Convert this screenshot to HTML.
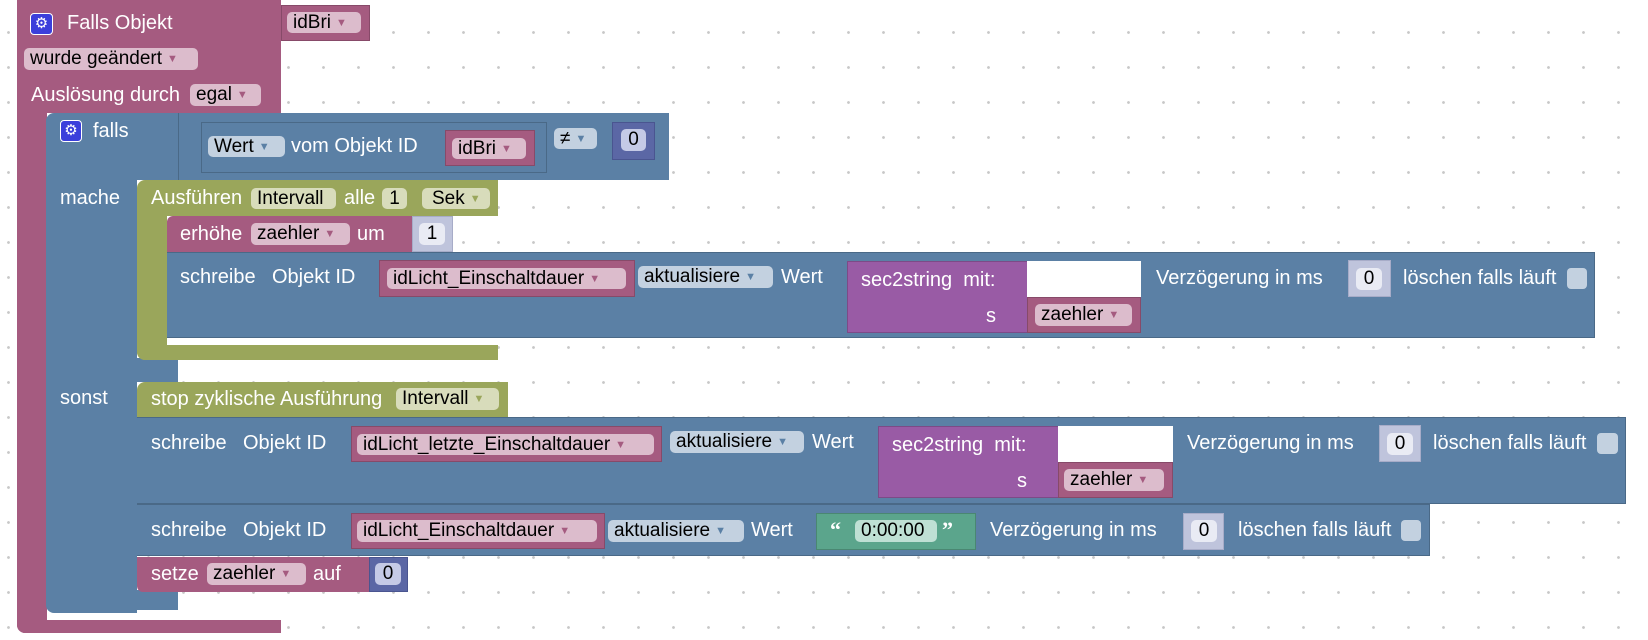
<!DOCTYPE html>
<html><head><meta charset="utf-8"><style>
body{margin:0;width:1648px;height:640px;overflow:hidden;background:#fff;
background-image:radial-gradient(circle,#c8c8c8 1.2px,transparent 1.6px);background-size:35px 35px;background-position:-9px 15px;
font-family:"Liberation Sans",sans-serif;}
div{position:absolute;box-sizing:border-box}
.t{color:#fff;font-size:20px;line-height:23px;white-space:nowrap}
.f{color:#000;font-size:19px;border-radius:5px;padding-left:6px;white-space:nowrap}
.f i{font-style:normal;font-size:11px;margin-left:5px;vertical-align:2px}
.pk{background:#a55b80}.bl{background:#5b80a5}.ol{background:#9aa65b}.pu{background:#995ba5}.gr{background:#5ba58c}
.fp{background:#dcbccc}.fp i{color:#a55b80}
.fb{background:#c3d1e0}.fb i{color:#5b80a5}
.fo{background:#d8dcbb}.fo i{color:#9aa65b}
.ln{background:#bfc4dc;border:1px solid #a7acc8}
.fl{background:#e9ebf4;text-align:center;padding:0}
.ob{border:1px solid rgba(0,0,0,.18)}
.gear{background:#3b3fdb;border:1.5px solid #fff;border-radius:4px;color:#fff;font-size:15px;text-align:center;line-height:19px}
.cb{background:#c3d1e0;border-radius:4px}
</style></head><body>

<!-- pink trigger -->
<div class="pk" style="left:17px;top:0;width:264px;height:113px"></div>
<div class="pk" style="left:17px;top:100px;width:30px;height:533px;border-radius:0 0 0 8px"></div>
<div class="pk" style="left:17px;top:620px;width:264px;height:13px;border-radius:0 0 0 8px"></div>
<div class="gear" style="left:30px;top:13px;width:23px;height:22px">⚙</div>
<div class="t" style="left:67px;top:12px">Falls Objekt</div>
<div class="pk ob" style="left:281px;top:5px;width:89px;height:36px"></div>
<div class="f fp" style="left:287px;top:12px;width:74px;height:21px;line-height:21px">idBri<i>▼</i></div>
<div class="f fp" style="left:24px;top:48px;width:174px;height:22px;line-height:22px">wurde geändert<i>▼</i></div>
<div class="t" style="left:31px;top:84px">Auslösung durch</div>
<div class="f fp" style="left:190px;top:84px;width:71px;height:22px;line-height:22px">egal<i>▼</i></div>

<!-- blue falls -->
<div class="bl" style="left:46px;top:113px;width:623px;height:67px;border-radius:8px 0 0 0"></div>
<div class="bl" style="left:46px;top:170px;width:91px;height:443px;border-radius:0 0 0 8px"></div>
<div class="bl" style="left:137px;top:358px;width:41px;height:24px"></div>
<div class="bl" style="left:137px;top:590px;width:41px;height:20px"></div>
<div class="gear" style="left:60px;top:120px;width:22px;height:22px">⚙</div>
<div class="t" style="left:93px;top:120px">falls</div>
<div class="bl ob" style="left:178px;top:113px;width:491px;height:67px;border-width:0 0 0 1px"></div>
<div class="bl ob" style="left:201px;top:122px;width:346px;height:51px"></div>
<div class="f fb" style="left:208px;top:136px;width:77px;height:21px;line-height:21px">Wert<i>▼</i></div>
<div class="t" style="left:291px;top:135px">vom Objekt ID</div>
<div class="pk ob" style="left:445px;top:130px;width:90px;height:36px"></div>
<div class="f fp" style="left:452px;top:138px;width:74px;height:21px;line-height:21px">idBri<i>▼</i></div>
<div class="f fb" style="left:554px;top:128px;width:43px;height:21px;line-height:21px">≠<i>▼</i></div>
<div style="left:612px;top:122px;width:43px;height:38px;background:#5b67a5;border:1px solid #4a5590"></div>
<div class="f" style="left:621px;top:129px;width:25px;height:22px;line-height:22px;background:#c5cae6;padding:0;text-align:center">0</div>
<div class="t" style="left:60px;top:187px">mache</div>
<div class="t" style="left:60px;top:387px">sonst</div>

<!-- olive Ausführen -->
<div class="ol" style="left:137px;top:180px;width:361px;height:36px;border-radius:8px 0 0 0"></div>
<div class="ol" style="left:137px;top:210px;width:30px;height:150px;border-radius:0 0 0 8px"></div>
<div class="ol" style="left:137px;top:345px;width:361px;height:15px;border-radius:0 0 0 8px"></div>
<div class="t" style="left:151px;top:187px">Ausführen</div>
<div class="f fo" style="left:251px;top:188px;width:85px;height:21px;line-height:21px">Intervall</div>
<div class="t" style="left:344px;top:187px">alle</div>
<div class="f fo" style="left:382px;top:188px;width:25px;height:21px;line-height:21px;padding:0;text-align:center">1</div>
<div class="f fo" style="left:422px;top:188px;width:68px;height:21px;line-height:21px;padding-left:10px">Sek<i>▼</i></div>

<!-- erhöhe -->
<div class="pk" style="left:167px;top:216px;width:245px;height:36px;border-radius:6px 0 0 0"></div>
<div class="t" style="left:180px;top:223px">erhöhe</div>
<div class="f fp" style="left:251px;top:223px;width:99px;height:22px;line-height:22px">zaehler<i>▼</i></div>
<div class="t" style="left:357px;top:223px">um</div>
<div class="ln" style="left:412px;top:216px;width:41px;height:36px"></div>
<div class="f fl" style="left:419px;top:223px;width:26px;height:22px;line-height:22px">1</div>

<!-- schreibe 1 -->
<div class="bl ob" style="left:167px;top:252px;width:1428px;height:86px;border-width:1px 1px 1px 0"></div>
<div class="t" style="left:180px;top:266px">schreibe</div>
<div class="t" style="left:272px;top:266px">Objekt ID</div>
<div class="pk ob" style="left:379px;top:260px;width:256px;height:37px"></div>
<div class="f fp" style="left:387px;top:268px;width:239px;height:21px;line-height:21px">idLicht_Einschaltdauer<i>▼</i></div>
<div class="f fb" style="left:638px;top:266px;width:135px;height:22px;line-height:22px">aktualisiere<i>▼</i></div>
<div class="t" style="left:781px;top:266px">Wert</div>
<div class="pu ob" style="left:847px;top:261px;width:294px;height:72px"></div>
<div style="left:1027px;top:261px;width:114px;height:36px;background:#fff"></div>
<div class="t" style="left:861px;top:269px">sec2string&nbsp; mit:</div>
<div class="t" style="left:986px;top:305px">s</div>
<div class="pk ob" style="left:1027px;top:297px;width:114px;height:36px"></div>
<div class="f fp" style="left:1035px;top:304px;width:97px;height:22px;line-height:22px">zaehler<i>▼</i></div>
<div class="t" style="left:1156px;top:267px">Verzögerung in ms</div>
<div class="ln" style="left:1348px;top:260px;width:43px;height:37px"></div>
<div class="f fl" style="left:1356px;top:268px;width:26px;height:22px;line-height:22px">0</div>
<div class="t" style="left:1403px;top:267px">löschen falls läuft</div>
<div class="cb" style="left:1567px;top:268px;width:20px;height:21px"></div>

<!-- stop -->
<div class="ol" style="left:137px;top:382px;width:371px;height:35px;border-radius:8px 0 0 0"></div>
<div class="t" style="left:151px;top:388px">stop zyklische Ausführung</div>
<div class="f fo" style="left:396px;top:388px;width:103px;height:22px;line-height:22px">Intervall<i>▼</i></div>

<!-- schreibe 2 -->
<div class="bl ob" style="left:137px;top:417px;width:1489px;height:87px;border-width:1px 1px 1px 0"></div>
<div class="t" style="left:151px;top:432px">schreibe</div>
<div class="t" style="left:243px;top:432px">Objekt ID</div>
<div class="pk ob" style="left:351px;top:426px;width:311px;height:36px"></div>
<div class="f fp" style="left:357px;top:434px;width:297px;height:21px;line-height:21px">idLicht_letzte_Einschaltdauer<i>▼</i></div>
<div class="f fb" style="left:670px;top:431px;width:134px;height:22px;line-height:22px">aktualisiere<i>▼</i></div>
<div class="t" style="left:812px;top:431px">Wert</div>
<div class="pu ob" style="left:878px;top:426px;width:295px;height:72px"></div>
<div style="left:1058px;top:426px;width:115px;height:36px;background:#fff"></div>
<div class="t" style="left:892px;top:434px">sec2string&nbsp; mit:</div>
<div class="t" style="left:1017px;top:470px">s</div>
<div class="pk ob" style="left:1058px;top:462px;width:115px;height:36px"></div>
<div class="f fp" style="left:1064px;top:469px;width:100px;height:22px;line-height:22px">zaehler<i>▼</i></div>
<div class="t" style="left:1187px;top:432px">Verzögerung in ms</div>
<div class="ln" style="left:1379px;top:425px;width:42px;height:37px"></div>
<div class="f fl" style="left:1387px;top:433px;width:26px;height:22px;line-height:22px">0</div>
<div class="t" style="left:1433px;top:432px">löschen falls läuft</div>
<div class="cb" style="left:1597px;top:433px;width:21px;height:21px"></div>

<!-- schreibe 3 -->
<div class="bl ob" style="left:137px;top:504px;width:1293px;height:52px;border-width:1px 1px 1px 0"></div>
<div class="t" style="left:151px;top:519px">schreibe</div>
<div class="t" style="left:243px;top:519px">Objekt ID</div>
<div class="pk ob" style="left:351px;top:513px;width:254px;height:36px"></div>
<div class="f fp" style="left:357px;top:520px;width:240px;height:22px;line-height:22px">idLicht_Einschaltdauer<i>▼</i></div>
<div class="f fb" style="left:608px;top:520px;width:136px;height:22px;line-height:22px">aktualisiere<i>▼</i></div>
<div class="t" style="left:751px;top:519px">Wert</div>
<div class="gr ob" style="left:816px;top:513px;width:160px;height:37px"></div>
<div class="t" style="left:830px;top:518px;font-weight:bold;font-family:'Liberation Serif',serif;font-size:22px">“</div>
<div class="f" style="left:855px;top:520px;width:82px;height:22px;line-height:22px;background:#bfe0d4">0:00:00</div>
<div class="t" style="left:942px;top:518px;font-weight:bold;font-family:'Liberation Serif',serif;font-size:22px">”</div>
<div class="t" style="left:990px;top:519px">Verzögerung in ms</div>
<div class="ln" style="left:1183px;top:513px;width:41px;height:37px"></div>
<div class="f fl" style="left:1191px;top:520px;width:26px;height:22px;line-height:22px">0</div>
<div class="t" style="left:1238px;top:519px">löschen falls läuft</div>
<div class="cb" style="left:1401px;top:520px;width:20px;height:21px"></div>

<!-- setze -->
<div class="pk" style="left:137px;top:557px;width:232px;height:35px;border-radius:0 0 0 6px"></div>
<div class="t" style="left:151px;top:563px">setze</div>
<div class="f fp" style="left:207px;top:563px;width:99px;height:22px;line-height:22px">zaehler<i>▼</i></div>
<div class="t" style="left:313px;top:563px">auf</div>
<div style="left:369px;top:557px;width:39px;height:35px;background:#5b67a5;border:1px solid #4a5590"></div>
<div class="f" style="left:375px;top:563px;width:26px;height:22px;line-height:22px;background:#c5cae6;padding:0;text-align:center">0</div>
</body></html>
